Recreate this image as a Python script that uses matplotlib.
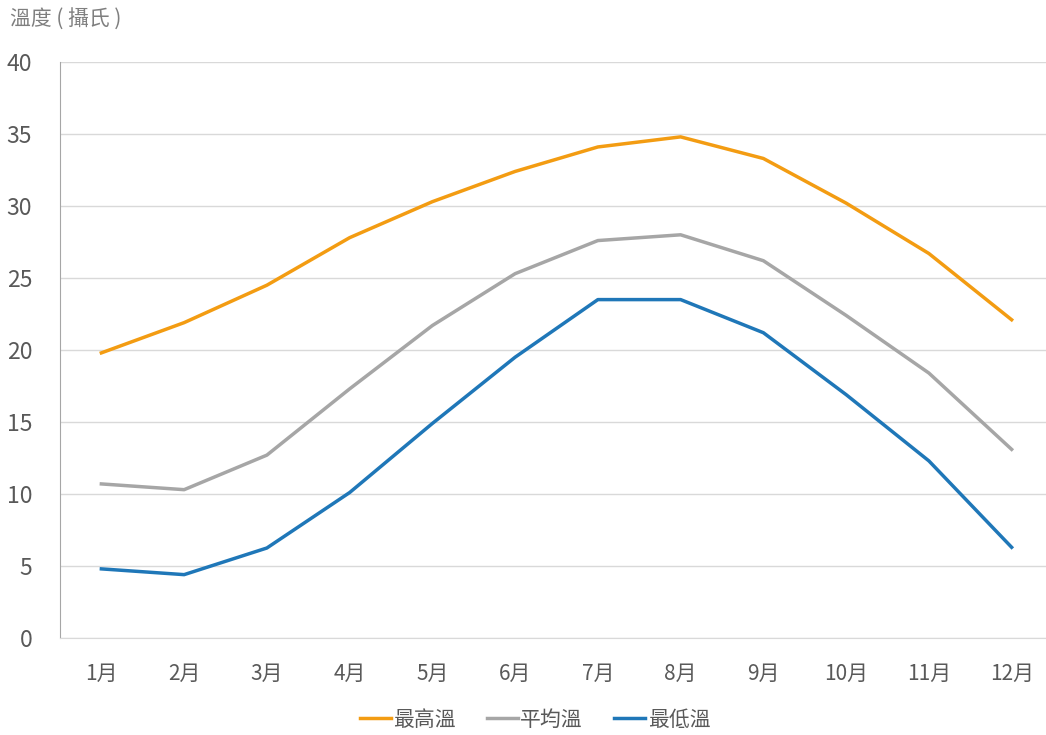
import matplotlib.pyplot as plt
import numpy as np

plt.rcParams['font.family'] = ['Noto Sans CJK TC', 'DejaVu Sans']

months = ['1月', '2月', '3月', '4月', '5月', '6月', '7月', '8月', '9月', '10月', '11月', '12月']
t_max = [19.8, 21.9, 24.5, 27.8, 30.3, 32.4, 34.1, 34.8, 33.3, 30.2, 26.7, 22.1]
t_avg = [10.7, 10.3, 12.7, 17.3, 21.7, 25.3, 27.6, 28.0, 26.2, 22.4, 18.4, 13.1]
t_min = [4.8, 4.4, 6.25, 10.1, 14.9, 19.5, 23.5, 23.5, 21.2, 16.9, 12.3, 6.3]

fig = plt.figure(figsize=(10.46, 7.35), dpi=100)
ax = fig.add_axes([60 / 1046, 1 - 638 / 735, 993 / 1046, 576 / 735])

x = np.arange(len(months))
ax.plot(x, t_max, color='#f39c12', lw=2.5, label='最高溫')
ax.plot(x, t_avg, color='#a6a6a6', lw=2.5, label='平均溫')
ax.plot(x, t_min, color='#1f77b8', lw=2.5, label='最低溫')

ax.set_xlim(-0.5, 11.5)
ax.set_ylim(0, 40)
ax.set_yticks(range(0, 41, 5))
ax.set_xticks(x)
ax.set_xticklabels(months)
ax.tick_params(axis='y', labelsize=16.5, colors='#595959', length=0, pad=20)
ax.tick_params(axis='x', labelsize=15, colors='#595959', length=0, pad=18)
ax.grid(axis='y', color='#d9d9d9', lw=1)
ax.set_axisbelow(True)
for s in ['top', 'right']:
    ax.spines[s].set_visible(False)
ax.spines['left'].set_color('#a6a6a6')
ax.spines['bottom'].set_color('#d9d9d9')

fig.text(10 / 1046, 1 - 20 / 735, '溫度 ( 攝氏 )', fontsize=15, color='#7f7f7f', va='center')

ax.legend(loc='upper center', bbox_to_anchor=((535 - 60) / 993, -0.09),
          ncol=3, frameon=False, fontsize=15, handlelength=1.5, columnspacing=1.5,
          handletextpad=0.1, labelcolor='#595959')

fig.savefig('out.png', dpi=100)
